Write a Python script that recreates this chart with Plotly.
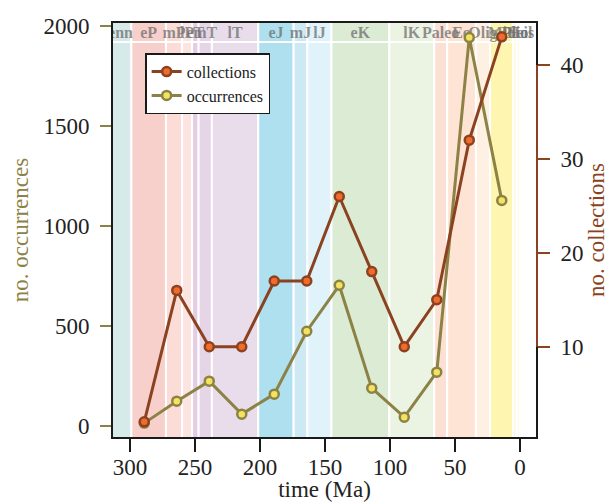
import plotly.graph_objects as go

# ---------------- data ----------------
bin_mid = [289, 264, 239, 214, 189, 164, 139, 114, 89, 64, 39, 14]
collections = [2, 16, 10, 10, 17, 17, 26, 18, 10, 15, 32, 43]
occurrences = [12, 122, 222, 57, 157, 472, 702, 187, 42, 267, 1942, 1127]

band_names = ["Penn", "eP", "mP", "lP", "eT", "mT", "lT", "eJ", "mJ", "lJ",
              "eK", "lK", "Paleo", "Eo", "Olig", "Mio", "Plio", "Pleis", "Hol"]
band_start = [323.2, 298.9, 272.3, 259.9, 252.2, 247.2, 237.0, 201.3, 174.1, 163.5,
              145.0, 100.5, 66.0, 56.0, 33.9, 23.03, 5.33, 2.58, 0.0117]
band_end = [298.9, 272.3, 259.9, 252.2, 247.2, 237.0, 201.3, 174.1, 163.5, 145.0,
            100.5, 66.0, 56.0, 33.9, 23.03, 5.33, 2.58, 0.0117, 0.0]
band_colors = ["#D7EAEA", "#F8D0CB", "#FBDCD7", "#FCE5E1", "#E4CDE3", "#E6D4E7",
               "#E9DDEC", "#AEE0F0", "#CDEAF4", "#E0F3FA", "#DBEBD4", "#EBF4E2",
               "#FCE0D4", "#FDE4D4", "#FEF0E2", "#FEF5B0", "#FFF8D0", "#FFFAF0",
               "#FFFDF8"]

x_ticks = [300, 250, 200, 150, 100, 50, 0]
y_ticks = [0, 500, 1000, 1500, 2000]
y2_ticks = [10, 20, 30, 40]

X_RANGE = [313.8, -13.1]
Y_RANGE = [-62.5, 2020]
Y2_RANGE = [0.28, 44.58]

BROWN = "#8B4220"
OLIVE = "#8C8246"
SERIF = "Liberation Serif"

fig = go.Figure()

# geologic bands
shapes = []
for s, e, c in zip(band_start, band_end, band_colors):
    shapes.append(dict(type="rect", xref="x", yref="paper",
                       x0=min(s, X_RANGE[0]), x1=e, y0=0, y1=1,
                       fillcolor=c, line=dict(color="white", width=2),
                       layer="below"))
# white line under label strip
shapes.append(dict(type="line", xref="paper", yref="paper", x0=0, x1=1,
                   y0=0.952, y1=0.952, line=dict(color="white", width=2),
                   layer="below"))
# frame
shapes.append(dict(type="rect", xref="paper", yref="paper", x0=0, x1=1, y0=0, y1=1,
                   line=dict(color="#1a1a1a", width=2), layer="above"))
# brown right axis line
shapes.append(dict(type="line", xref="paper", yref="y2", x0=1, x1=1,
                   y0=y2_ticks[0], y1=y2_ticks[-1], line=dict(color=BROWN, width=2),
                   layer="above"))

band_mid = [(max(min(s, 323.2), 0) + e) / 2 for s, e in zip(band_start, band_end)]
fig.add_trace(go.Scatter(
    x=band_mid, y=[1962] * len(band_mid), mode="text", text=band_names,
    textfont=dict(family=SERIF, size=16, color="rgba(115,115,115,0.78)", weight="bold"),
    textposition="middle center", cliponaxis=True, showlegend=False, hoverinfo="skip",
    yaxis="y"))

fig.add_trace(go.Scatter(
    x=bin_mid, y=collections, name="collections", yaxis="y2",
    mode="lines+markers", line=dict(color=BROWN, width=3),
    marker=dict(size=9, color="#F26B2A", line=dict(color=BROWN, width=2.5)),
    cliponaxis=False))
fig.add_trace(go.Scatter(
    x=bin_mid, y=occurrences, name="occurrences", yaxis="y",
    mode="lines+markers", line=dict(color=OLIVE, width=3),
    marker=dict(size=9, color="#F4E35E", line=dict(color=OLIVE, width=2.5)),
    cliponaxis=False))

fig.update_layout(
    width=609, height=502,
    margin=dict(l=112, r=72, t=22, b=64, autoexpand=False),
    paper_bgcolor="white", plot_bgcolor="white",
    font=dict(family=SERIF, size=23, color="#222"),
    shapes=shapes,
    showlegend=True,
    legend=dict(x=0.078, y=0.925, xanchor="left", yanchor="top",
                bgcolor="white", bordercolor="#1a1a1a", borderwidth=1.5,
                font=dict(family=SERIF, size=16, color="#222"),
                tracegroupgap=0, itemwidth=30),
    xaxis=dict(range=X_RANGE, tickvals=x_ticks, ticktext=[str(v) for v in x_ticks],
               ticks="outside", ticklen=13, tickwidth=2, tickcolor="#1a1a1a",
               ticklabelstandoff=-5,
               showgrid=False, zeroline=False, showline=False, automargin=False,
               tickfont=dict(family=SERIF, size=23, color="#222"),
               title=dict(text="time (Ma)", standoff=4,
                          font=dict(family=SERIF, size=23, color="#222"))),
    yaxis=dict(range=Y_RANGE, tickvals=y_ticks, ticktext=[str(v) for v in y_ticks],
               ticks="outside", ticklen=11, tickwidth=2, tickcolor=OLIVE,
               ticklabelstandoff=6, automargin=False,
               tickfont=dict(family=SERIF, size=23, color="#222"),
               showgrid=False, zeroline=False, showline=False,
               title=dict(text="no. occurrences", standoff=8,
                          font=dict(family=SERIF, size=23, color=OLIVE))),
    yaxis2=dict(range=Y2_RANGE, tickvals=y2_ticks, ticktext=[str(v) for v in y2_ticks],
                overlaying="y", side="right", automargin=False,
                ticks="outside", ticklen=12, tickwidth=2, tickcolor=BROWN,
                ticklabelstandoff=6,
                tickfont=dict(family=SERIF, size=23, color="#222"),
                showgrid=False, zeroline=False, showline=False,
                title=dict(text="no. collections", standoff=15,
                           font=dict(family=SERIF, size=23, color=BROWN))),
)

fig.write_html("out.html", config={"displayModeBar": False},
               post_script="document.body.style.margin='0';document.body.style.padding='0';document.documentElement.style.overflow='hidden';")
